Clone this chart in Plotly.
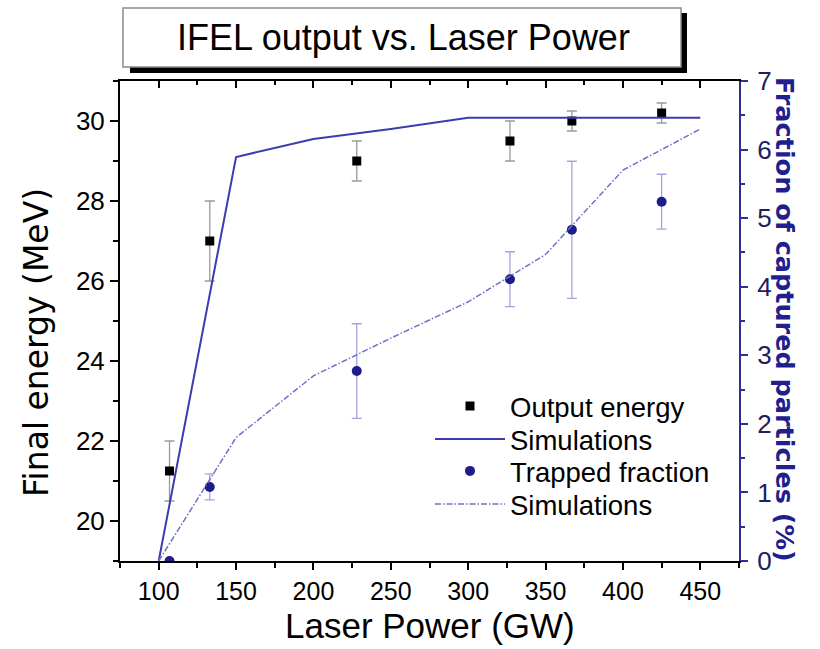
import plotly.graph_objects as go

# Measured beam energy vs laser power
power_exp = [107, 133, 228, 327, 367, 425]
energy = [21.25, 27.0, 29.0, 29.5, 30.0, 30.2]
energy_err = [0.75, 1.0, 0.5, 0.5, 0.25, 0.25]

# Measured trapped fraction (%)
trapped = [0.0, 1.08, 2.77, 4.11, 4.83, 5.24]
trapped_err = [0.0, 0.19, 0.69, 0.4, 1.0, 0.4]

# Simulation curves
sim_power = [100, 150, 200, 250, 300, 350, 400, 450]
sim_energy = [19.0, 29.1, 29.55, 29.8, 30.08, 30.08, 30.08, 30.08]
sim_fraction = [0.0, 1.8, 2.7, 3.25, 3.78, 4.47, 5.7, 6.3]

SANS = "Liberation Sans, Arial"
BLUE_AX = "#2e2e96"

fig = go.Figure()

fig.add_trace(go.Scatter(
    x=power_exp, y=energy, mode="markers", name="Output energy",
    marker=dict(symbol="square", size=9, color="black"),
    error_y=dict(type="data", array=energy_err, color="#9a9a9a", thickness=1.3, width=5),
    legend="legend", yaxis="y", xaxis="x"))

fig.add_trace(go.Scatter(
    x=sim_power, y=sim_energy, mode="lines", name="Simulations",
    line=dict(color="#3c3cae", width=2),
    legend="legend2", yaxis="y", xaxis="x"))

fig.add_trace(go.Scatter(
    x=power_exp, y=trapped, mode="markers", name="Trapped fraction",
    marker=dict(symbol="circle", size=10, color="#1c1c8c"),
    error_y=dict(type="data", array=trapped_err, color="#a4a4dc", thickness=1.3, width=5),
    legend="legend3", yaxis="y2", xaxis="x"))

fig.add_trace(go.Scatter(
    x=sim_power, y=sim_fraction, mode="lines", name="Simulations",
    line=dict(color="#7070c8", width=1.5, dash="6px,2px,1.5px,2px"),
    legend="legend4", yaxis="y2", xaxis="x"))

# empty trace so the mirrored top axis is laid out
fig.add_trace(go.Scatter(x=[], y=[], xaxis="x2", yaxis="y", showlegend=False))


def py(p):
    return (561 - p) / 480


def px(p):
    return (p - 120) / 619


legend_common = dict(
    xanchor="left", yanchor="middle", bgcolor="rgba(0,0,0,0)", borderwidth=0,
    font=dict(family=SANS, size=27.5, color="black"), itemwidth=70,
)
L_X = px(430)

fig.update_layout(
    width=820, height=649,
    margin=dict(l=120, r=81, t=81, b=88),
    paper_bgcolor="white", plot_bgcolor="white",
    showlegend=True,
    legend=dict(x=L_X, y=py(406), **legend_common),
    legend2=dict(x=L_X, y=py(439), **legend_common),
    legend3=dict(x=L_X, y=py(471), **legend_common),
    legend4=dict(x=L_X, y=py(504), **legend_common),
    xaxis=dict(
        range=[75, 475], dtick=50, tick0=0, showgrid=False, zeroline=False,
        showline=True, linecolor="black", linewidth=2,
        ticks="outside", ticklen=7, tickwidth=1.5, tickcolor="black",
        minor=dict(dtick=25, tick0=0, ticks="outside", ticklen=5, tickwidth=1.5, tickcolor="black"),
        tickfont=dict(family=SANS, size=25, color="black"),
    ),
    xaxis2=dict(
        overlaying="x", side="top", anchor="y", range=[75, 475], dtick=50, tick0=0,
        showgrid=False, zeroline=False, showticklabels=False,
        showline=True, linecolor="black", linewidth=2,
        ticks="inside", ticklen=7, tickwidth=1.5, tickcolor="black",
        minor=dict(dtick=25, tick0=0, ticks="inside", ticklen=4, tickwidth=1.5, tickcolor="black"),
    ),
    yaxis=dict(
        range=[19, 31], dtick=2, tick0=0, showgrid=False, zeroline=False,
        showline=True, linecolor="black", linewidth=2,
        ticks="outside", ticklen=8, tickwidth=1.5, tickcolor="black",
        minor=dict(dtick=1, tick0=0, ticks="outside", ticklen=5, tickwidth=1.5, tickcolor="black"),
        tickfont=dict(family=SANS, size=26, color="black"),
    ),
    yaxis2=dict(
        overlaying="y", side="right", anchor="x", range=[0, 7], dtick=1, tick0=0,
        showgrid=False, zeroline=False,
        showline=True, linecolor=BLUE_AX, linewidth=2,
        ticks="outside", ticklen=7, tickwidth=1.5, tickcolor=BLUE_AX,
        minor=dict(dtick=0.5, tick0=0, ticks="outside", ticklen=4, tickwidth=1.5, tickcolor=BLUE_AX),
        tickfont=dict(family=SANS, size=26, color="#20205e"),
        ticklabelstandoff=4,
    ),
)

# Title box with drop shadow
fig.add_shape(type="rect", xref="paper", yref="paper",
              x0=px(130), x1=px(687), y0=py(73), y1=py(13),
              fillcolor="black", line=dict(width=0), layer="above")
fig.add_shape(type="rect", xref="paper", yref="paper",
              x0=px(123), x1=px(681), y0=py(67), y1=py(8),
              fillcolor="white", line=dict(color="#8c8c8c", width=1.5), layer="above")

fig.add_annotation(text="IFEL output vs. Laser Power", xref="paper", yref="paper",
                   x=px(403), y=py(37), xanchor="center", yanchor="middle", showarrow=False,
                   font=dict(family=SANS, size=36, color="black"))

fig.add_annotation(text="Laser Power (GW)", xref="paper", yref="paper",
                   x=px(430), y=py(625), xanchor="center", yanchor="middle", showarrow=False,
                   font=dict(family=SANS, size=35, color="black"))

fig.add_annotation(text="Final energy (MeV)", xref="paper", yref="paper",
                   x=px(36), y=py(343), xanchor="center", yanchor="middle", showarrow=False,
                   textangle=-90, font=dict(family="DejaVu Sans", size=33, color="black"))

fig.add_annotation(text="<b>Fraction of captured particles (%)</b>", xref="paper", yref="paper",
                   x=px(785), y=py(319), xanchor="center", yanchor="middle", showarrow=False,
                   textangle=90, font=dict(family="DejaVu Sans", size=25.5, color="#1f1f8f"))

fig.write_html("out.html")
